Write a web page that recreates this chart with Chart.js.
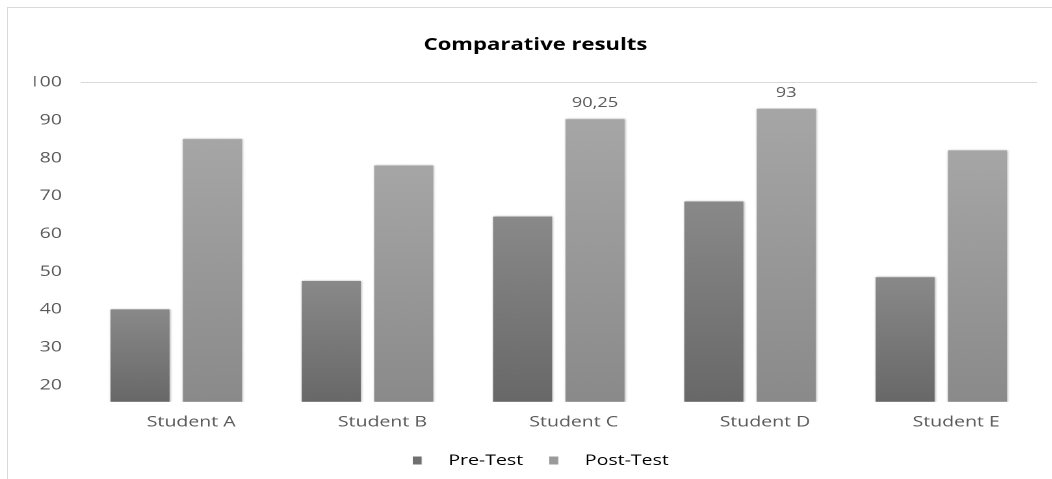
<!DOCTYPE html>
<html>
<head>
<meta charset="utf-8">
<script src="https://cdn.jsdelivr.net/npm/chart.js@4/dist/chart.umd.min.js"></script>
<style>
  html, body { margin: 0; padding: 0; background: #ffffff; overflow: hidden; }
  body { width: 1052px; height: 479px; position: relative; }
  #frame {
    position: absolute; left: 7px; top: 7px; width: 1060px; height: 480px;
    border-left: 1px solid #d9d9d9; border-top: 1px solid #d9d9d9;
  }
  /* the chart is laid out narrow and widened horizontally */
  #wrap {
    position: absolute; left: 0; top: 0; width: 810px; height: 479px;
    transform: scaleX(1.3); transform-origin: 0 0;
  }
</style>
</head>
<body>
<div id="frame"></div>
<div id="wrap"><canvas id="chart"></canvas></div>
<script>
const categories = ['Student A', 'Student B', 'Student C', 'Student D', 'Student E'];
const preTest = [40, 47.5, 64.5, 68.5, 48.5];
const postTest = [85, 78, 90.25, 93, 82];
const postTestLabelled = [false, false, true, true, false];
const yTickValues = [20, 30, 40, 50, 60, 70, 80, 90, 100];
const seriesNames = ['Pre-Test', 'Post-Test'];

Chart.defaults.font.family = "'Open Sans', 'Liberation Sans', sans-serif";

// vertical gradient running from each bar's top down to the axis base
function shade(top, bottom) {
  return (c) => {
    const chart = c.chart;
    const y = chart.scales && chart.scales.y;
    if (!chart.chartArea || !y || c.raw === undefined) return bottom;
    const yTop = y.getPixelForValue(c.raw);
    const yBase = y.getPixelForValue(y.min);
    const g = chart.ctx.createLinearGradient(0, yTop, 0, yBase);
    g.addColorStop(0, top);
    g.addColorStop(1, bottom);
    return g;
  };
}

function swatch(color) {
  const cv = document.createElement('canvas');
  cv.width = 20; cv.height = 8;
  const g = cv.getContext('2d');
  g.fillStyle = color;
  g.fillRect(0, 0, 7, 8);
  return cv;
}

const barShadow = {
  id: 'barShadow',
  beforeDatasetsDraw(chart) {
    const ctx = chart.ctx;
    ctx.save();
    ctx.shadowColor = 'rgba(0,0,0,0.35)';
    ctx.shadowBlur = 4;
    ctx.shadowOffsetX = 1;
    ctx.shadowOffsetY = 0;
  },
  afterDatasetsDraw(chart) {
    chart.ctx.restore();
  }
};

// nudge the legend row slightly to the right of centre
const legendNudge = {
  id: 'legendNudge',
  afterLayout(chart) {
    if (chart.legend) {
      chart.legend.left += 4;
      chart.legend.right += 4;
    }
  }
};

const valueLabels = {
  id: 'valueLabels',
  afterDatasetsDraw(chart) {
    const ctx = chart.ctx;
    const meta = chart.getDatasetMeta(1);
    ctx.save();
    ctx.font = "14px 'Open Sans', sans-serif";
    ctx.fillStyle = '#595959';
    ctx.textAlign = 'center';
    ctx.textBaseline = 'middle';
    meta.data.forEach((bar, i) => {
      if (!postTestLabelled[i]) return;
      const text = String(postTest[i]).replace('.', ',');
      ctx.fillText(text, bar.x, bar.y - 16);
    });
    ctx.restore();
  }
};

new Chart(document.getElementById('chart'), {
  type: 'bar',
  data: {
    labels: categories,
    datasets: [
      {
        label: seriesNames[0],
        data: preTest,
        backgroundColor: shade('#898989', '#686868'),
        borderWidth: 0,
        categoryPercentage: 0.757,
        barPercentage: 0.815
      },
      {
        label: seriesNames[1],
        data: postTest,
        backgroundColor: shade('#a6a6a6', '#8a8a8a'),
        borderWidth: 0,
        categoryPercentage: 0.757,
        barPercentage: 0.815
      }
    ]
  },
  options: {
    responsive: true,
    maintainAspectRatio: false,
    devicePixelRatio: 2,
    animation: false,
    events: [],
    layout: { padding: { left: 26.2, right: 12.4, top: 0, bottom: 1 } },
    scales: {
      x: {
        grid: { display: false, drawTicks: false },
        border: { display: false },
        ticks: {
          color: '#595959',
          font: { size: 15 },
          padding: 11.3,
          labelOffset: 11.5,
          maxRotation: 0
        },
        afterFit(scale) { scale.height = 31.3; }
      },
      y: {
        min: 15.6,
        max: 100,
        afterBuildTicks(scale) {
          scale.ticks = yTickValues.map(v => ({ value: v }));
        },
        grid: {
          drawTicks: false,
          color: (c) => (c.tick && c.tick.value === 100) ? '#d9d9d9' : 'rgba(0,0,0,0)'
        },
        border: { display: false },
        ticks: {
          color: '#595959',
          font: { size: 15 },
          padding: 14.3
        },
        afterFit(scale) { scale.width = 35.8; }
      }
    },
    plugins: {
      title: {
        display: true,
        text: 'Comparative results',
        color: '#000000',
        font: { size: 17, weight: 'bold' },
        padding: { top: 34.8, bottom: 27.1 }
      },
      legend: {
        position: 'bottom',
        labels: {
          color: '#595959',
          font: { size: 15 },
          usePointStyle: true,
          pointStyleWidth: 20,
          padding: 20,
          generateLabels() {
            return [
              { text: seriesNames[0], pointStyle: swatch('#707070'), fillStyle: '#707070', strokeStyle: 'rgba(0,0,0,0)', lineWidth: 0, hidden: false, datasetIndex: 0 },
              { text: seriesNames[1], pointStyle: swatch('#9a9a9a'), fillStyle: '#9a9a9a', strokeStyle: 'rgba(0,0,0,0)', lineWidth: 0, hidden: false, datasetIndex: 1 }
            ];
          }
        }
      },
      tooltip: { enabled: false }
    }
  },
  plugins: [barShadow, legendNudge, valueLabels]
});
</script>
</body>
</html>
